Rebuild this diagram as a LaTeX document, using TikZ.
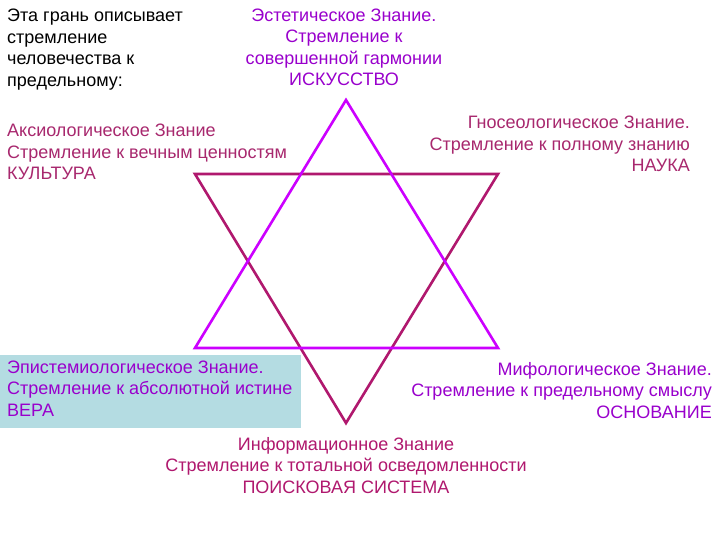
\documentclass[tikz,border=0pt]{standalone}
\usepackage{fontspec}
\setmainfont{Liberation Sans}
\definecolor{violetline}{HTML}{CC00FF}
\definecolor{crimsonline}{HTML}{B0186E}
\definecolor{txtpurple}{HTML}{9900CC}
\definecolor{txtrose}{HTML}{A8286E}
\definecolor{boxblue}{HTML}{B4DCE2}
\tikzset{
  lbl/.style={inner sep=0pt, font=\fontsize{18}{21.5}\selectfont},
  upline/.style={draw=violetline, line width=2.6pt, line join=miter},
  downline/.style={draw=crimsonline, line width=2.6pt, line join=miter},
}
\begin{document}
\begin{tikzpicture}[x=1pt, y=-1pt]
\useasboundingbox (0,0) rectangle (720,540);
\fill[white] (0,0) rectangle (720,540);
% highlighted box
\fill[boxblue] (0,355) rectangle (301,428);
% star
\coordinate (ua) at (346,100);
\coordinate (ul) at (195,348);
\coordinate (ur) at (498,348);
\coordinate (dl) at (195,174);
\coordinate (dr) at (498,174);
\coordinate (db) at (346,423);
\draw[downline] (dl) -- (dr) -- (db) -- cycle;
\draw[upline] (ua) -- (ul) -- (ur) -- cycle;
% texts (base anchor = baseline of the last line)
\node[lbl, anchor=base west, align=left, text=black] (intro) at (7,86.5)
  {Эта грань описывает\\стремление\\человечества к\\предельному:};
\node[lbl, anchor=base, align=center, text=txtpurple] (art) at (344,86)
  {Эстетическое Знание.\\Стремление к\\совершенной гармонии\\ИСКУССТВО};
\node[lbl, anchor=base west, align=left, text=txtrose] (cult) at (7,180)
  {Аксиологическое Знание\\Стремление к вечным ценностям\\КУЛЬТУРА};
\node[lbl, anchor=base east, align=right, text=txtrose] (sci) at (690,172)
  {Гносеологическое Знание.\\Стремление к полному знанию\\НАУКА};
\node[lbl, anchor=base west, align=left, text=txtpurple] (faith) at (7,416)
  {Эпистемиологическое Знание.\\Стремление к абсолютной истине\\ВЕРА};
\node[lbl, anchor=base east, align=right, text=txtpurple] (myth) at (712,418)
  {Мифологическое Знание.\\Стремление к предельному смыслу\\ОСНОВАНИЕ};
\node[lbl, anchor=base, align=center, text=crimsonline] (info) at (346,493)
  {Информационное Знание\\Стремление к тотальной осведомленности\\ПОИСКОВАЯ СИСТЕМА};
\end{tikzpicture}
\end{document}
